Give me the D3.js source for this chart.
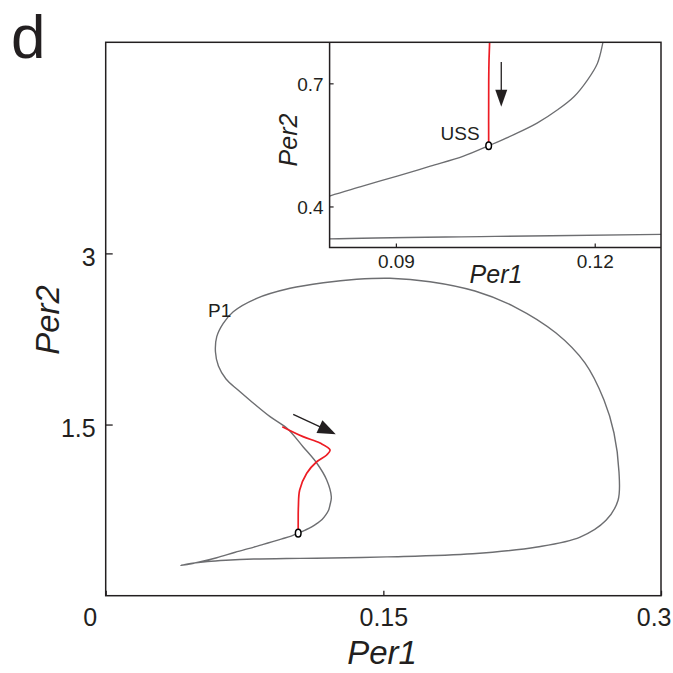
<!DOCTYPE html>
<html>
<head>
<meta charset="utf-8">
<script src="https://cdn.jsdelivr.net/npm/d3@7"></script>
<style>
  body { margin: 0; background: #fff; }
  text { font-family: "Liberation Sans", Arial, Helvetica, sans-serif; fill: #231f20; }
</style>
</head>
<body>
<svg id="chart" width="673" height="673"></svg>
<script>
// limit cycle P1 (closed loop)
const cyclePer1 = [0.1040, 0.1002, 0.0952, 0.0902, 0.0851, 0.0801, 0.0700, 0.0600, 0.0500, 0.0440,
    0.0405, 0.0460, 0.0550, 0.0650, 0.0800, 0.1050, 0.1300, 0.1520, 0.1983, 0.2331,
    0.2563, 0.2703, 0.2768, 0.2773, 0.2746, 0.2692, 0.2589, 0.2433, 0.2211, 0.1995,
    0.1752, 0.1536, 0.1356, 0.1176, 0.0996, 0.0816, 0.0689, 0.0635, 0.0600, 0.0593,
    0.0609, 0.0650, 0.0715, 0.0790, 0.0888, 0.0978, 0.1066, 0.1140, 0.1194, 0.1219,
    0.1212, 0.1204, 0.1189, 0.1169, 0.1144, 0.1113, 0.1078];
const cyclePer2 = [0.548, 0.5225, 0.498, 0.474, 0.450, 0.426, 0.381, 0.333, 0.293, 0.274,
    0.266, 0.283, 0.300, 0.311, 0.321, 0.327, 0.332, 0.340, 0.368, 0.427,
    0.514, 0.661, 0.837, 1.085, 1.426, 1.715, 2.040, 2.302, 2.530, 2.670,
    2.752, 2.782, 2.773, 2.743, 2.694, 2.606, 2.489, 2.387, 2.270, 2.136,
    2.013, 1.899, 1.802, 1.698, 1.569, 1.470, 1.306, 1.163, 1.014, 0.865,
    0.797, 0.7485, 0.708, 0.668, 0.6355, 0.603, 0.575];

// red trajectory ending on the unstable steady state
const trajPer1 = [0.0954, 0.1066, 0.1158, 0.1212, 0.1194, 0.1140, 0.1086, 0.1048, 0.1041, 0.1040, 0.1040];
const trajPer2 = [1.481, 1.394, 1.338, 1.277, 1.233, 1.174, 1.073, 0.926, 0.780, 0.640, 0.548];

const ussPoint = [0.104, 0.548];
const arrowMain = [[0.1013, 1.589], [0.1243, 1.416]];
const arrowInset = [[0.1059, 0.752], [0.1059, 0.643]];

const mainXTicks = [0, 0.15, 0.3];
const mainYTicks = [1.5, 3];
const insetXTicks = [0.09, 0.12];
const insetYTicks = [0.4, 0.7];

const ink = "#231f20";
const grey = "#6d6e71";
const red = "#ed1c24";

const svg = d3.select("#chart");

const xMain = d3.scaleLinear().domain([0, 0.3]).range([105.7, 661]);
const yMain = d3.scaleLinear().domain([0, 4.85]).range([595.7, 42.3]);
const xIn = d3.scaleLinear().domain([0.08, 0.13]).range([329.6, 661]);
const yIn = d3.scaleLinear().domain([0.3, 0.8]).range([247.5, 42.3]);

const cycle = cyclePer1.map((d, i) => [d, cyclePer2[i]]);
const traj = trajPer1.map((d, i) => [d, trajPer2[i]]);

function lineFor(xs, ys, closed) {
    return d3.line()
        .x(d => xs(d[0]))
        .y(d => ys(d[1]))
        .curve(closed ? d3.curveCatmullRomClosed.alpha(0.5) : d3.curveCatmullRom.alpha(0.5));
}

function drawArrow(g, p0, p1, headLen, headHalf) {
    const dx = p1[0] - p0[0], dy = p1[1] - p0[1];
    const L = Math.sqrt(dx * dx + dy * dy);
    const ux = dx / L, uy = dy / L;
    const bx = p1[0] - ux * headLen, by = p1[1] - uy * headLen;
    g.append("line")
        .attr("x1", p0[0]).attr("y1", p0[1])
        .attr("x2", bx + ux * 2).attr("y2", by + uy * 2)
        .attr("stroke", ink).attr("stroke-width", 1.3);
    g.append("path")
        .attr("d", "M" + p1[0] + "," + p1[1] +
            "L" + (bx - uy * headHalf) + "," + (by + ux * headHalf) +
            "L" + (bx + uy * headHalf) + "," + (by - ux * headHalf) + "Z")
        .attr("fill", ink);
}

function drawPanel(g, xs, ys, sw) {
    g.append("path")
        .attr("d", lineFor(xs, ys, true)(cycle))
        .attr("fill", "none").attr("stroke", grey).attr("stroke-width", sw);
    g.append("path")
        .attr("d", lineFor(xs, ys, false)(traj))
        .attr("fill", "none").attr("stroke", red).attr("stroke-width", 1.7);
    g.append("ellipse")
        .attr("cx", xs(ussPoint[0])).attr("cy", ys(ussPoint[1]))
        .attr("rx", 2.8).attr("ry", 3.8)
        .attr("fill", "#fff").attr("stroke", "#000").attr("stroke-width", 1.5);
}

// ---- main panel ----
svg.append("defs").append("clipPath").attr("id", "clipMain")
    .append("rect")
    .attr("x", xMain.range()[0]).attr("y", yMain.range()[1])
    .attr("width", xMain.range()[1] - xMain.range()[0])
    .attr("height", yMain.range()[0] - yMain.range()[1]);

const main = svg.append("g").attr("clip-path", "url(#clipMain)");
drawPanel(main, xMain, yMain, 1.4);
drawArrow(svg.append("g"),
    [xMain(arrowMain[0][0]), yMain(arrowMain[0][1])],
    [xMain(arrowMain[1][0]), yMain(arrowMain[1][1])], 18, 7);

svg.append("text")
    .attr("x", xMain(0.0553)).attr("y", yMain(2.443))
    .attr("font-size", 19).text("P1");

// main axes
const gxMain = svg.append("g")
    .attr("transform", "translate(0," + yMain.range()[0] + ")")
    .call(d3.axisBottom(xMain).tickValues(mainXTicks).tickSize(-5).tickPadding(13)
        .tickFormat(d3.format("")));
gxMain.select(".domain").remove();
gxMain.selectAll("line").attr("stroke", ink).attr("stroke-width", 1.3);
gxMain.selectAll("text").attr("font-size", 25).attr("fill", ink)
    .attr("font-family", "Liberation Sans, Arial, sans-serif");
gxMain.selectAll(".tick").filter(d => d === mainXTicks[0]).select("text")
    .attr("text-anchor", "end").attr("x", -9);
gxMain.selectAll(".tick").filter(d => d === mainXTicks[2]).select("text")
    .attr("text-anchor", "end").attr("x", 10);

const gyMain = svg.append("g")
    .attr("transform", "translate(" + xMain.range()[0] + ",0)")
    .call(d3.axisLeft(yMain).tickValues(mainYTicks).tickSize(-7).tickPadding(10)
        .tickFormat(d3.format("")));
gyMain.select(".domain").remove();
gyMain.selectAll("line").attr("stroke", ink).attr("stroke-width", 1.3);
gyMain.selectAll("text").attr("font-size", 25).attr("dy", "0.48em").attr("fill", ink)
    .attr("font-family", "Liberation Sans, Arial, sans-serif");

svg.append("text")
    .attr("x", 382).attr("y", 664)
    .attr("text-anchor", "middle").attr("font-size", 33).attr("font-style", "italic")
    .text("Per1");
svg.append("text")
    .attr("transform", "translate(59,320) rotate(-90)")
    .attr("text-anchor", "middle").attr("font-size", 33).attr("font-style", "italic")
    .text("Per2");

svg.append("text")
    .attr("x", 11).attr("y", 58)
    .attr("font-size", 62).text("d");

// ---- inset ----
svg.select("defs").append("clipPath").attr("id", "clipInset")
    .append("rect")
    .attr("x", xIn.range()[0]).attr("y", yIn.range()[1])
    .attr("width", xIn.range()[1] - xIn.range()[0])
    .attr("height", yIn.range()[0] - yIn.range()[1]);

svg.append("rect")
    .attr("x", xIn.range()[0]).attr("y", yIn.range()[1])
    .attr("width", xIn.range()[1] - xIn.range()[0])
    .attr("height", yIn.range()[0] - yIn.range()[1])
    .attr("fill", "#fff");

const inset = svg.append("g").attr("clip-path", "url(#clipInset)");
drawPanel(inset, xIn, yIn, 1.3);
drawArrow(svg.append("g"),
    [xIn(arrowInset[0][0]), yIn(arrowInset[0][1])],
    [xIn(arrowInset[1][0]), yIn(arrowInset[1][1])], 17, 6);

svg.append("text")
    .attr("x", xIn(ussPoint[0]) - 9).attr("y", yIn(ussPoint[1]) - 6)
    .attr("text-anchor", "end").attr("font-size", 19).text("USS");

const gxIn = svg.append("g")
    .attr("transform", "translate(0," + yIn.range()[0] + ")")
    .call(d3.axisBottom(xIn).tickValues(insetXTicks).tickSize(-4).tickPadding(7)
        .tickFormat(d3.format(".2f")));
gxIn.select(".domain").remove();
gxIn.selectAll("line").attr("stroke", ink).attr("stroke-width", 1.2);
gxIn.selectAll("text").attr("font-size", 19).attr("fill", ink)
    .attr("font-family", "Liberation Sans, Arial, sans-serif");

const gyIn = svg.append("g")
    .attr("transform", "translate(" + xIn.range()[0] + ",0)")
    .call(d3.axisLeft(yIn).tickValues(insetYTicks).tickSize(-4).tickPadding(6)
        .tickFormat(d3.format(".1f")));
gyIn.select(".domain").remove();
gyIn.selectAll("line").attr("stroke", ink).attr("stroke-width", 1.2);
gyIn.selectAll("text").attr("font-size", 19).attr("dy", "0.38em").attr("fill", ink)
    .attr("font-family", "Liberation Sans, Arial, sans-serif");

svg.append("text")
    .attr("x", 496).attr("y", 283)
    .attr("text-anchor", "middle").attr("font-size", 25).attr("font-style", "italic")
    .text("Per1");
svg.append("text")
    .attr("transform", "translate(297,140) rotate(-90)")
    .attr("text-anchor", "middle").attr("font-size", 25).attr("font-style", "italic")
    .text("Per2");

// frames
svg.append("path")
    .attr("d", "M" + xIn.range()[0] + "," + yIn.range()[1] +
        "V" + yIn.range()[0] + "H" + xIn.range()[1])
    .attr("fill", "none").attr("stroke", ink).attr("stroke-width", 1.5);
svg.append("rect")
    .attr("x", xMain.range()[0]).attr("y", yMain.range()[1])
    .attr("width", xMain.range()[1] - xMain.range()[0])
    .attr("height", yMain.range()[0] - yMain.range()[1])
    .attr("fill", "none").attr("stroke", ink).attr("stroke-width", 1.5);
</script>
</body>
</html>
